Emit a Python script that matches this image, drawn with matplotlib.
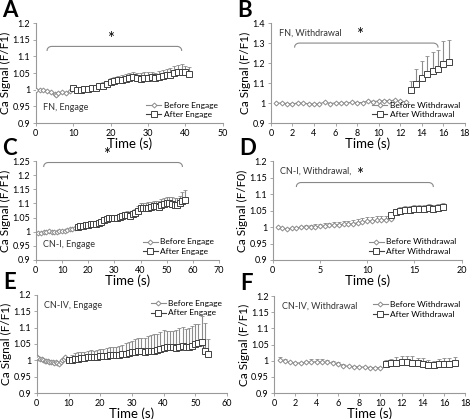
import numpy as np
import matplotlib
matplotlib.use("Agg")
import matplotlib.pyplot as plt

plt.rcParams["font.family"] = ["Lato", "DejaVu Sans"]

# ---- data ----
# A: FN, Engage
a_before_t = [0, 1, 2, 3, 4, 5, 5.5, 6, 7, 8, 9]
a_before_y = [1.0, 1.0, 0.999, 0.997, 0.993, 0.988, 0.985, 0.991, 0.992, 0.991, 0.995]
a_after_t = list(range(10, 42))
a_after_y = [1.004, 1.0, 0.999, 1.002, 1.003, 1.004, 1.006, 1.01, 1.012, 1.016, 1.022, 1.025, 1.028,
             1.03, 1.031, 1.035, 1.038, 1.034, 1.033, 1.036, 1.036, 1.037, 1.034, 1.038, 1.042, 1.043,
             1.045, 1.05, 1.053, 1.054, 1.052, 1.047]
a_after_err = [0.004, 0.005, 0.005, 0.006, 0.006, 0.007, 0.008, 0.009, 0.01, 0.011, 0.012, 0.012, 0.013,
               0.014, 0.015, 0.016, 0.016, 0.016, 0.016, 0.016, 0.017, 0.017, 0.017, 0.018, 0.018, 0.019,
               0.02, 0.02, 0.021, 0.022, 0.02, 0.02]

# B: FN, Withdrawal
b_before_t = [0.5 * i for i in range(1, 26)]
b_before_y = [1.0, 1.0, 0.998, 0.996, 1.001, 1.0, 0.997, 0.995, 0.996, 1.006, 0.998, 1.001, 1.0,
              1.001, 1.004, 1.003, 1.003, 1.01, 1.008, 1.01, 1.012, 1.012, 1.015, 1.01, 1.007]
b_after_t = [13, 13.5, 14, 14.5, 15, 15.5, 16, 16.5]
b_after_y = [1.065, 1.095, 1.125, 1.145, 1.16, 1.17, 1.195, 1.205]
b_after_err = [0.045, 0.075, 0.085, 0.09, 0.095, 0.095, 0.115, 0.11]

# C: CN-I, Engage
c_before_t = list(range(1, 16))
c_before_y = [0.995, 0.997, 0.998, 1.0, 1.001, 1.0, 0.998, 1.0, 1.001, 1.002, 1.003, 1.005, 1.008, 1.01, 1.012]
c_after_t = list(range(16, 58))
c_after_y = [1.018, 1.02, 1.022, 1.024, 1.025, 1.026, 1.028, 1.028, 1.03, 1.035, 1.04, 1.045, 1.048,
             1.05, 1.05, 1.05, 1.052, 1.055, 1.058, 1.06, 1.055, 1.062, 1.068, 1.075, 1.085, 1.085,
             1.084, 1.085, 1.088, 1.09, 1.09, 1.088, 1.095, 1.098, 1.1, 1.1, 1.099, 1.096, 1.094,
             1.1, 1.108, 1.112]
c_after_err = [0.004, 0.004, 0.005, 0.005, 0.005, 0.006, 0.006, 0.006, 0.007, 0.007, 0.008, 0.008, 0.009,
               0.009, 0.01, 0.01, 0.01, 0.011, 0.011, 0.012, 0.012, 0.013, 0.014, 0.015, 0.018, 0.018,
               0.018, 0.019, 0.019, 0.02, 0.02, 0.02, 0.021, 0.022, 0.022, 0.022, 0.023, 0.024, 0.026,
               0.028, 0.032, 0.035]

# D: CN-I, Withdrawal
d_before_t = [0.5 * i for i in range(1, 26)]
d_before_y = [1.0, 0.996, 0.995, 0.996, 0.998, 0.999, 1.0, 1.0, 1.001, 1.002, 1.003, 1.005, 1.006,
              1.007, 1.008, 1.009, 1.01, 1.013, 1.015, 1.018, 1.019, 1.02, 1.021, 1.022, 1.025]
d_before_err = [0.0, 0.0, 0.0, 0.002, 0.003, 0.004, 0.005, 0.006, 0.007, 0.007, 0.008, 0.008, 0.009,
                0.009, 0.009, 0.01, 0.01, 0.01, 0.011, 0.011, 0.011, 0.012, 0.012, 0.012, 0.012]
d_after_t = [12.5, 13, 13.5, 14, 14.5, 15, 15.5, 16, 16.5, 17, 17.5, 18]
d_after_y = [1.035, 1.045, 1.05, 1.052, 1.053, 1.055, 1.056, 1.055, 1.057, 1.056, 1.058, 1.06]
d_after_err = [0.01, 0.011, 0.011, 0.012, 0.012, 0.012, 0.012, 0.012, 0.012, 0.012, 0.013, 0.013]

# E: CN-IV, Engage
e_before_t = [0.5 * i for i in range(0, 19)]
e_before_y = [1.01, 1.008, 1.005, 1.003, 1.0, 0.999, 0.998, 0.997, 0.996, 0.995, 0.994, 0.993, 0.995,
              0.992, 0.99, 0.995, 1.0, 1.005, 1.01]
e_after_t = list(range(10, 55))
e_after_y = [1.0, 1.002, 1.004, 1.005, 1.006, 1.008, 1.009, 1.01, 1.01, 1.011, 1.012, 1.012, 1.014,
             1.015, 1.015, 1.016, 1.017, 1.018, 1.02, 1.022, 1.025, 1.027, 1.028, 1.028, 1.027, 1.028,
             1.029, 1.03, 1.032, 1.035, 1.038, 1.04, 1.042, 1.04, 1.038, 1.04, 1.045, 1.042, 1.04,
             1.045, 1.05, 1.052, 1.055, 1.03, 1.02]
e_after_err = [0.01, 0.015, 0.018, 0.02, 0.02, 0.018, 0.02, 0.022, 0.02, 0.021, 0.022, 0.023, 0.024,
               0.025, 0.025, 0.026, 0.028, 0.03, 0.032, 0.033, 0.035, 0.038, 0.04, 0.04, 0.042, 0.045,
               0.048, 0.05, 0.05, 0.052, 0.055, 0.05, 0.048, 0.05, 0.055, 0.058, 0.058, 0.055, 0.058,
               0.06, 0.06, 0.06, 0.08, 0.085, 0.045]

# F: CN-IV, Withdrawal
f_before_t = [0.5 * i for i in range(1, 21)]
f_before_y = [1.003, 0.998, 0.995, 0.993, 0.993, 0.995, 0.996, 0.997, 0.996, 0.995, 0.993, 0.99,
              0.985, 0.983, 0.982, 0.981, 0.98, 0.979, 0.978, 0.979]
f_before_err = [0.01, 0.008, 0.0, 0.0, 0.0, 0.005, 0.008, 0.008, 0.008, 0.007, 0.006, 0.005, 0.004,
                0.0, 0.0, 0.0, 0.0, 0.0, 0.0, 0.003]
f_after_t = [10.5 + 0.5 * i for i in range(14)]
f_after_y = [0.99, 0.992, 0.994, 0.995, 0.996, 0.994, 0.992, 0.99, 0.987, 0.988, 0.99, 0.99, 0.99, 0.992]
f_after_err = [0.012, 0.015, 0.018, 0.02, 0.019, 0.02, 0.018, 0.018, 0.015, 0.012, 0.015, 0.018, 0.018, 0.02]

GRAY = "#8c8c8c"
DARK = "#404040"


def panel(rect, letter, label, bt, by, berr, at, ay, aerr, xlim, xstep, ylim, ystep,
          leg, leg_loc, ylab="Ca Signal (F/F1)", note_pos="bottom", bracket=None):
    ax = fig.add_axes(rect)
    ax.plot(bt, by, color=GRAY, lw=0.8, marker="D", ms=2.5, mfc="white", mec=GRAY, mew=0.7,
            label=leg[0], zorder=3)
    if berr is not None:
        ax.errorbar(bt, by, yerr=[np.zeros(len(berr)), berr], fmt="none", ecolor=GRAY, elinewidth=0.7,
                    capsize=1.2, capthick=0.6, zorder=2)
    ax.errorbar(at, ay, yerr=[np.zeros(len(aerr)), aerr], fmt="none", ecolor=GRAY, elinewidth=0.8,
                capsize=1.5, capthick=0.6, zorder=2)
    ax.plot(at, ay, color=DARK, lw=0.8, marker="s", ms=4, mfc="white", mec=DARK, mew=0.7,
            label=leg[1], zorder=3)
    ax.set_xlim(*xlim)
    ax.set_ylim(*ylim)
    ax.set_xticks(np.arange(xlim[0], xlim[1] + 0.001, xstep))
    ax.set_yticks(np.round(np.arange(ylim[0], ylim[1] + 0.0001, ystep), 3))
    ax.yaxis.set_major_formatter(matplotlib.ticker.FuncFormatter(lambda v, p: ("%g" % round(v, 3))))
    for s in ["top", "right"]:
        ax.spines[s].set_visible(False)
    for s in ["left", "bottom"]:
        ax.spines[s].set_color("#999999")
        ax.spines[s].set_linewidth(0.8)
    ax.tick_params(labelsize=6.5, length=2.5, width=0.6, color="#999999", pad=1.5)
    ax.set_xlabel("Time (s)", fontsize=9.5, labelpad=0)
    ax.set_ylabel(ylab, fontsize=8.5, labelpad=1)
    ax.legend(loc=leg_loc, fontsize=6, frameon=False, handlelength=1.8, handletextpad=0.3,
              borderaxespad=0.2, labelspacing=0.3)
    if note_pos == "bottom":
        ax.text(0.04, 0.13, label, transform=ax.transAxes, fontsize=6.5, color="#333333")
    else:
        ax.text(0.04, 0.87, label, transform=ax.transAxes, fontsize=6.5, color="#333333")
    if bracket is not None:
        x1, x2, yb, xs = bracket
        h = (ylim[1] - ylim[0]) * 0.04
        d = (xlim[1] - xlim[0]) * 0.025
        th = np.linspace(0, np.pi / 2, 10)
        lx = x1 + d * (1 - np.cos(th))
        ly = yb - h * (1 - np.sin(th))
        rx = x2 - d * (1 - np.cos(th[::-1]))
        ry = yb - h * (1 - np.sin(th[::-1]))
        ax.plot(np.concatenate([lx, rx]), np.concatenate([ly, ry]), color="#888888", lw=0.8,
                clip_on=False)
        ax.text(xs, yb - h * 0.1, "*", ha="center", va="bottom", fontsize=12, clip_on=False)
    fig.text(rect[0] - 0.072, rect[1] + rect[3] + 0.005, letter, fontsize=16, fontweight="bold",
             va="bottom", ha="left")
    return ax


fig = plt.figure(figsize=(4.72, 4.19), dpi=100)

panel([0.076, 0.706, 0.396, 0.239], "A", "FN, Engage", a_before_t, a_before_y, None,
      a_after_t, a_after_y, a_after_err, (0, 50), 10, (0.9, 1.2), 0.05,
      ["Before Engage", "After Engage"], "lower right", bracket=(3, 39, 1.13, 20))
panel([0.574, 0.706, 0.411, 0.239], "B", "FN, Withdrawal", b_before_t, b_before_y, None,
      b_after_t, b_after_y, b_after_err, (0, 18), 2, (0.9, 1.4), 0.1,
      ["Before Withdrawal", "After Withdrawal"], "lower right", note_pos="top",
      bracket=(2.2, 15.5, 1.3, 8.2))
panel([0.076, 0.3795, 0.388, 0.236], "C", "CN-I, Engage", c_before_t, c_before_y, None,
      c_after_t, c_after_y, c_after_err, (0, 70), 10, (0.9, 1.25), 0.05,
      ["Before Engage", "After Engage"], "lower right", bracket=(3, 56, 1.245, 27))
panel([0.578, 0.3795, 0.400, 0.236], "D", "CN-I, Withdrawal,", d_before_t, d_before_y, d_before_err,
      d_after_t, d_after_y, d_after_err, (0, 20), 5, (0.9, 1.2), 0.05,
      ["Before Withdrawal", "After Withdrawal"], "lower right", ylab="Ca Signal (F/F0)",
      note_pos="top", bracket=(2.5, 17, 1.135, 9.2))
panel([0.078, 0.062, 0.403, 0.234], "E", "CN-IV, Engage", e_before_t, e_before_y, None,
      e_after_t, e_after_y, e_after_err, (0, 60), 10, (0.9, 1.2), 0.05,
      ["Before Engage", "After Engage"], "upper right", note_pos="top")
panel([0.581, 0.062, 0.405, 0.231], "F", "CN-IV, Withdrawal", f_before_t, f_before_y, f_before_err,
      f_after_t, f_after_y, f_after_err, (0, 18), 2, (0.9, 1.2), 0.05,
      ["Before Withdrawal", "After Withdrawal"], "upper right", note_pos="top")

fig.savefig("out.png", dpi=100)
